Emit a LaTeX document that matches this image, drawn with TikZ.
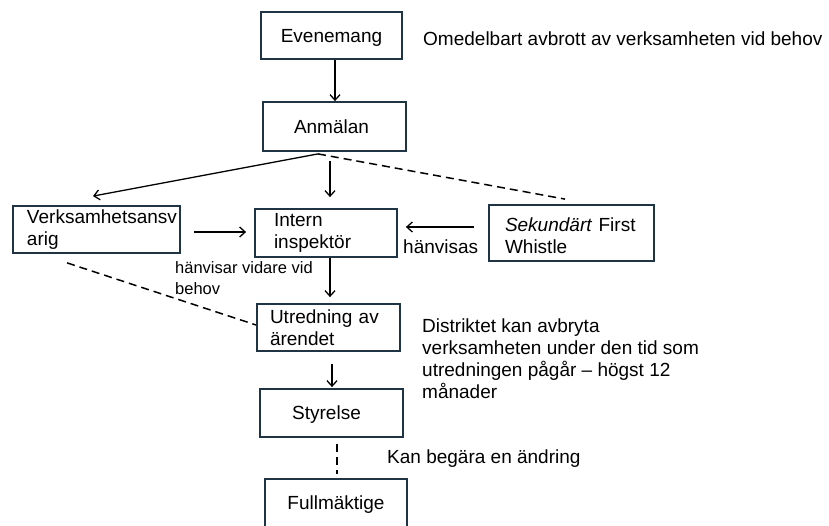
\documentclass[tikz,border=0pt]{standalone}
\usepackage{fontspec}
\setmainfont{Liberation Sans}
\usetikzlibrary{arrows.meta,calc}
\definecolor{boxc}{HTML}{1F3545}
\newcommand\mainf{\fontsize{19}{22}\selectfont}
\newcommand\smallf{\fontsize{16.5}{21}\selectfont}
\begin{document}
\begin{tikzpicture}[x=1pt,y=-1pt,
  box/.style={draw=boxc, line width=1.8pt, inner sep=0pt, font=\mainf},
  sbox/.style={box, text height=13.6pt, text depth=0pt},
  lbox/.style={box, align=left},
  free/.style={inner sep=0pt, font=\mainf},
  arr/.style={-{Straight Barb[length=5.5pt,width=10pt]}, line width=1.3pt},
  dsh/.style={line width=1.5pt, dash pattern=on 8pt off 5pt}]
\useasboundingbox (0,0) rectangle (829,525);

% boxes
\node[sbox, minimum width=141pt, minimum height=47pt] (ev) at (331.5,35.5) {Evenemang};
\node[sbox, minimum width=143pt, minimum height=49pt] (anm) at (334.5,126.5) {\hspace*{-6pt}Anmälan};
\node[lbox, minimum width=167pt, minimum height=47pt, inner xsep=14pt, text width=139pt] (verk) at (96.5,229.5) {\mbox{Verksamhetsansv}\\arig};
\node[lbox, minimum width=142pt, minimum height=48pt, inner xsep=19pt, text width=104pt] (int) at (326,233) {Intern\\inspektör};
\node[lbox, minimum width=165pt, minimum height=56pt, inner xsep=16pt, text width=133pt] (fw) at (571.5,233) {\mbox{\rule{0pt}{19.6pt}\textit{Sekundärt} First}\\Whistle};
\node[lbox, minimum width=143pt, minimum height=47pt, inner xsep=13pt, text width=117pt] (utr) at (328.5,327.5) {\mbox{Utredning av}\\ärendet};
\node[sbox, minimum width=143pt, minimum height=48pt] (sty) at (331.5,413) {\hspace*{-10pt}Styrelse};
\node[sbox, minimum width=142pt, minimum height=48pt] (full) at (336,503) {Fullmäktige};

% free texts
\node[free, anchor=base west] (om) at (423,45) {Omedelbart avbrott av verksamheten vid behov};
\node[free, anchor=base west] (hv) at (403,253) {hänvisas};
\node[free, anchor=north west, align=left, font=\smallf] (hvv) at (175,261) {hänvisar vidare vid\\behov};
\node[free, anchor=north west, align=left] (dist) at (422,319) {Distriktet kan avbryta\\verksamheten under den tid som\\utredningen pågår – högst 12\\månader};
\node[free, anchor=base west] (kan) at (387,463) {Kan begära en ändring};

% connectors
\draw[arr] ($(ev.south)+(3.5,0)$) -- ($(anm.north)+(0.5,0)$);
\draw[arr] ($(anm.south)+(-16.5,2)$) -- ($(verk.north)+(-3.5,-9)$);
\draw[arr] ($(anm.south)+(-4.5,9)$) -- ($(int.north)+(4,-11)$);
\draw[dsh] ($(anm.south)+(-16.5,2)$) -- ($(fw.north)+(-6.5,-5)$);
\draw[arr] ($(verk.east)+(13,2.5)$) -- ($(int.west)+(-8,-1)$);
\draw[arr] ($(fw.west)+(-14,-6)$) -- ($(int.east)+(8,-6)$);
\draw[arr] ($(int.south)+(4,0)$) -- ($(utr.north)+(1.5,-6)$);
\draw[dsh] ($(verk.south west)+(55,9)$) -- ($(utr.west)+(0,-2.5)$);
\draw[arr] ($(utr.south)+(3.5,12)$) -- ($(sty.north)+(0.5,-1)$);
\draw[dsh] ($(sty.south)+(5.5,6)$) -- ($(full.north)+(1,-4)$);
\end{tikzpicture}
\end{document}
